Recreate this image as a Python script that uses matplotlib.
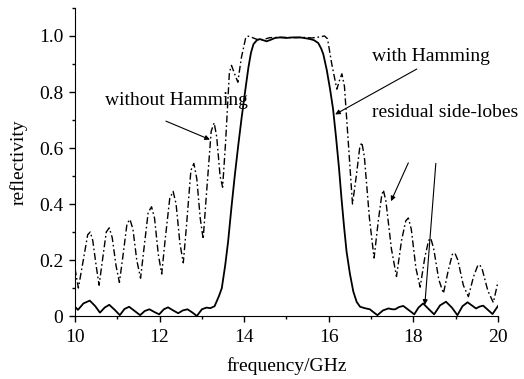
import matplotlib
matplotlib.use("Agg")
import matplotlib.pyplot as plt
from matplotlib.ticker import MultipleLocator, FixedLocator, FixedFormatter

plt.rcParams['font.family'] = ['Liberation Serif', 'DejaVu Serif']

# without Hamming (dash-dot curve)
freq_raw = [10.00, 10.08, 10.22, 10.30, 10.36, 10.42, 10.50, 10.57, 10.65, 10.74,
            10.81, 10.88, 10.97, 11.05, 11.13, 11.23, 11.30, 11.37, 11.46, 11.55,
            11.63, 11.73, 11.81, 11.88, 11.97, 12.05, 12.13, 12.24, 12.32, 12.39,
            12.48, 12.56, 12.64, 12.74, 12.81, 12.88, 12.96, 13.03, 13.10, 13.22,
            13.29, 13.35, 13.43, 13.49, 13.56, 13.65, 13.70, 13.76, 13.85, 13.93,
            14.03, 14.08, 14.18, 14.30, 14.45, 14.60, 14.80, 15.00, 15.20, 15.40,
            15.60, 15.75, 15.90, 15.97, 16.07, 16.19, 16.25, 16.31, 16.37, 16.47,
            16.56, 16.65, 16.73, 16.78, 16.84, 16.96, 17.07, 17.17, 17.25, 17.29,
            17.35, 17.48, 17.60, 17.72, 17.82, 17.88, 17.95, 18.06, 18.16, 18.27,
            18.36, 18.41, 18.48, 18.60, 18.71, 18.82, 18.92, 18.98, 19.05, 19.18,
            19.30, 19.42, 19.52, 19.57, 19.63, 19.76, 19.89, 20.00]
refl_raw = [0.17, 0.10, 0.22, 0.29, 0.30, 0.27, 0.18, 0.11, 0.20, 0.30,
            0.315, 0.28, 0.18, 0.12, 0.21, 0.33, 0.345, 0.31, 0.20, 0.135,
            0.24, 0.37, 0.39, 0.35, 0.22, 0.15, 0.27, 0.42, 0.445, 0.40,
            0.26, 0.19, 0.33, 0.52, 0.545, 0.49, 0.35, 0.275, 0.42, 0.66,
            0.69, 0.64, 0.50, 0.46, 0.62, 0.87, 0.895, 0.87, 0.835, 0.92,
            0.99, 1.0, 0.995, 0.988, 0.987, 0.994, 0.995, 0.995, 0.994, 0.995,
            0.993, 0.996, 1.0, 0.99, 0.90, 0.81, 0.84, 0.865, 0.82, 0.60,
            0.40, 0.50, 0.60, 0.62, 0.57, 0.35, 0.207, 0.34, 0.43, 0.45,
            0.41, 0.24, 0.141, 0.27, 0.34, 0.35, 0.31, 0.17, 0.103, 0.21,
            0.27, 0.278, 0.24, 0.13, 0.081, 0.16, 0.22, 0.225, 0.20, 0.11,
            0.069, 0.14, 0.18, 0.183, 0.165, 0.09, 0.048, 0.123]

# with Hamming (solid curve)
freq_ham = [10.00, 10.07, 10.20, 10.35, 10.48, 10.59, 10.70, 10.81, 10.94, 11.06,
            11.17, 11.28, 11.41, 11.54, 11.65, 11.76, 11.88, 11.99, 12.10, 12.20,
            12.32, 12.44, 12.55, 12.66, 12.78, 12.88, 13.00, 13.11, 13.20, 13.30,
            13.40, 13.47, 13.55, 13.62, 13.70, 13.78, 13.86, 13.94, 14.02, 14.10,
            14.16, 14.22, 14.30, 14.37, 14.45, 14.53, 14.62, 14.73, 14.85, 15.00,
            15.15, 15.32, 15.45, 15.56, 15.65, 15.75, 15.82, 15.87, 15.95, 16.03,
            16.10, 16.17, 16.24, 16.30, 16.36, 16.42, 16.50, 16.58, 16.66, 16.74,
            16.85, 16.97, 17.07, 17.15, 17.28, 17.41, 17.50, 17.57, 17.66, 17.76,
            17.90, 18.02, 18.12, 18.23, 18.36, 18.49, 18.63, 18.77, 18.91, 19.04,
            19.16, 19.28, 19.38, 19.48, 19.57, 19.65, 19.76, 19.87, 20.00]
refl_ham = [0.033, 0.022, 0.045, 0.055, 0.035, 0.012, 0.03, 0.04, 0.022, 0.003,
            0.025, 0.033, 0.018, 0.003, 0.018, 0.024, 0.014, 0.006, 0.024, 0.031,
            0.02, 0.01, 0.02, 0.024, 0.012, 0.0, 0.024, 0.03, 0.028, 0.035,
            0.07, 0.099, 0.18, 0.266, 0.39, 0.505, 0.61, 0.709, 0.80, 0.888,
            0.94, 0.971, 0.985, 0.989, 0.985, 0.981, 0.986, 0.993, 0.995, 0.993,
            0.995, 0.995, 0.992, 0.989, 0.985, 0.975, 0.955, 0.935, 0.88, 0.81,
            0.74, 0.64, 0.53, 0.42, 0.32, 0.23, 0.15, 0.087, 0.05, 0.033,
            0.028, 0.024, 0.012, 0.003, 0.02, 0.027, 0.024, 0.024, 0.032, 0.036,
            0.02, 0.006, 0.03, 0.045, 0.025, 0.006, 0.038, 0.051, 0.03, 0.003,
            0.035, 0.049, 0.038, 0.027, 0.034, 0.037, 0.022, 0.007, 0.036]

x_ticks = [10, 12, 14, 16, 18, 20]
y_ticks = [0, 0.2, 0.4, 0.6, 0.8, 1.0]
y_tick_labels = ['0', '0.2', '0.4', '0.6', '0.8', '1.0']

fig = plt.figure(figsize=(5.24, 3.79), dpi=100)
ax = fig.add_axes([0.1431, 0.1662, 0.8073, 0.8127])

ax.plot(freq_raw, refl_raw, color='black', lw=1.0, linestyle=(0, (5, 2, 1.2, 2)))
ax.plot(freq_ham, refl_ham, color='black', lw=1.3)

ax.set_xlim(10, 20)
ax.set_ylim(0, 1.1)

# 坐标轴: 只留左边和下边
ax.spines['top'].set_visible(False)
ax.spines['right'].set_visible(False)
ax.xaxis.set_major_locator(FixedLocator(x_ticks))
ax.xaxis.set_minor_locator(MultipleLocator(1))
ax.yaxis.set_major_locator(FixedLocator(y_ticks))
ax.yaxis.set_major_formatter(FixedFormatter(y_tick_labels))
ax.yaxis.set_minor_locator(MultipleLocator(0.1))
ax.tick_params(which='major', direction='out', length=4.5, width=1, labelsize=14, pad=4)
ax.tick_params(which='minor', direction='out', length=2.5, width=1)
ax.tick_params(axis='x', which='major', pad=5)

ax.set_xlabel('frequency/GHz', fontsize=14, labelpad=8)
ax.set_ylabel('reflectivity', fontsize=14, labelpad=8)

# 标注和箭头
arrow = dict(arrowstyle='-|>', color='black', lw=0.8, mutation_scale=7, shrinkA=0, shrinkB=0)
ax.text(10.71, 0.769, 'without Hamming', fontsize=14, va='center')
ax.annotate('', xy=(13.19, 0.63), xytext=(12.15, 0.696), arrowprops=arrow)
ax.text(17.02, 0.927, 'with Hamming', fontsize=14, va='center')
ax.annotate('', xy=(16.15, 0.72), xytext=(18.08, 0.882), arrowprops=arrow)
ax.text(17.02, 0.726, 'residual side-lobes', fontsize=14, va='center')
ax.annotate('', xy=(17.47, 0.41), xytext=(17.88, 0.547), arrowprops=arrow)
ax.annotate('', xy=(18.27, 0.04), xytext=(18.53, 0.545), arrowprops=arrow)

fig.savefig('out.png', dpi=100)
